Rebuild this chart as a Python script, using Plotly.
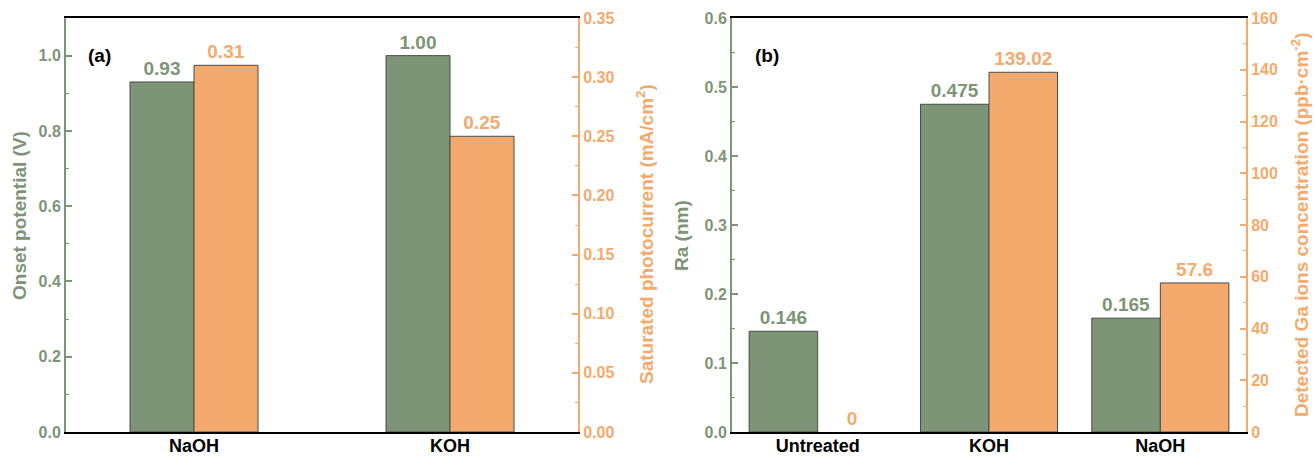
import plotly.graph_objects as go

# ---------------- data ----------------
CATS_A = ["NaOH", "KOH"]
ONSET_V = [0.93, 1.00]
ONSET_LBL = ["0.93", "1.00"]
PHOTO_mA = [0.31, 0.25]
PHOTO_LBL = ["0.31", "0.25"]

CATS_B = ["Untreated", "KOH", "NaOH"]
RA_NM = [0.146, 0.475, 0.165]
RA_LBL = ["0.146", "0.475", "0.165"]
GA_PPB = [0, 139.02, 57.6]
GA_LBL = ["0", "139.02", "57.6"]

# ---------------- style ----------------
W, H = 1316, 459
GREEN = "#7E9476"
ORANGE = "#F4AA6C"
EDGE = "#4a4a4a"
FONT = "Liberation Sans, Arial, sans-serif"

def px_x(p):
    return p / W

def px_y(p):
    return (H - p) / H

YDOM = [px_y(432), px_y(18)]
XDOM_A = [px_x(66), px_x(578)]
XDOM_B = [px_x(732), px_x(1246)]

fig = go.Figure()

def bar(x, y, txt, color, xa, ya, width, offset):
    edge_w = [1 if v > 0 else 0 for v in y]
    return go.Bar(
        x=x, y=y, text=txt, textposition="outside", cliponaxis=False,
        constraintext="none",
        textfont=dict(family=FONT, size=19, color=color, weight="bold"),
        marker=dict(color=color, line=dict(color=EDGE, width=edge_w)),
        width=width, offset=offset, xaxis=xa, yaxis=ya, showlegend=False,
        hoverinfo="skip",
    )

fig.add_trace(bar(CATS_A, ONSET_V, ONSET_LBL, GREEN, "x", "y", 0.25, -0.25))
fig.add_trace(bar(CATS_A, PHOTO_mA, PHOTO_LBL, ORANGE, "x", "y2", 0.25, 0.0))
fig.add_trace(bar(CATS_B, RA_NM, RA_LBL, GREEN, "x2", "y3", 0.4, -0.4))
fig.add_trace(bar(CATS_B, GA_PPB, GA_LBL, ORANGE, "x2", "y4", 0.4, 0.0))

def xax(dom, anchor, n):
    return dict(domain=dom, anchor=anchor, type="category", range=[-0.5, n - 0.5],
                showline=True, linecolor="black", linewidth=2, mirror=True,
                ticks="", showgrid=False, zeroline=False, automargin=False,
                ticklabelstandoff=-4,
                tickfont=dict(family=FONT, size=18, color="black", weight="bold"))

def yax(color, rng, dtick, fmt, anchor, side="left", overlaying=None):
    d = dict(domain=YDOM, anchor=anchor, range=rng, dtick=dtick, tick0=0,
             tickformat=fmt, side=side, showline=True, linecolor=color,
             linewidth=2, ticks="inside", ticklen=6, tickwidth=1.5,
             tickcolor=color, showgrid=False, zeroline=False, automargin=False,
             tickfont=dict(family=FONT, size=16, color=color, weight="bold"),
             minor=dict(ticks="inside", ticklen=3, tickwidth=1.2,
                        tickcolor=color, dtick=dtick / 2, showgrid=False))
    if overlaying:
        d["overlaying"] = overlaying
    return d

fig.update_layout(
    width=W, height=H,
    margin=dict(l=0, r=0, t=0, b=0, autoexpand=False),
    paper_bgcolor="white", plot_bgcolor="white",
    font=dict(family=FONT),
    xaxis=xax(XDOM_A, "y", len(CATS_A)),
    xaxis2=xax(XDOM_B, "y3", len(CATS_B)),
    yaxis=yax(GREEN, [0, 1.1], 0.2, ".1f", "x"),
    yaxis2=yax(ORANGE, [0, 0.35], 0.05, ".2f", "x", side="right", overlaying="y"),
    yaxis3=yax(GREEN, [0, 0.6], 0.1, ".1f", "x2"),
    yaxis4=yax(ORANGE, [0, 160], 20, "d", "x2", side="right", overlaying="y3"),
)

def ann(text, x, y, color="black", angle=0, size=19):
    fig.add_annotation(text=text, x=px_x(x), y=px_y(y), xref="paper", yref="paper",
                       showarrow=False, textangle=angle, xanchor="center",
                       yanchor="middle",
                       font=dict(family=FONT, size=size, color=color, weight="bold"))

ann("(a)", 99, 56)
ann("(b)", 767, 55)
ann("Onset potential (V)", 19, 216, GREEN, -90)
ann("Saturated photocurrent (mA/cm<sup>2</sup>)", 645, 234, ORANGE, -90)
ann("Ra (nm)", 681, 236, GREEN, -90)
ann("Detected Ga ions concentration (ppb·cm<sup>-2</sup>)", 1300, 225, ORANGE, -90)

fig.write_html(
    "out.html",
    config={"displayModeBar": False},
    post_script="document.body.style.margin='0px';document.body.style.overflow='hidden';",
)
